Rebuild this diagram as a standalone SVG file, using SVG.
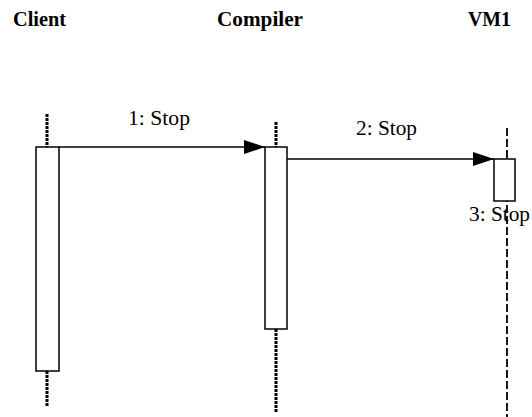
<svg xmlns="http://www.w3.org/2000/svg" width="532" height="417" viewBox="0 0 532 417">
<style>
.head{font-family:"Liberation Serif",serif;font-weight:bold;font-size:21px;fill:#000}
.lbl{font-family:"Liberation Serif",serif;font-size:22px;fill:#000}
.life{stroke:#000;stroke-width:3;stroke-dasharray:3,1;fill:none}
.life2{stroke:#000;stroke-width:1.8;stroke-dasharray:8,3;fill:none}
.act{fill:#fff;stroke:#000;stroke-width:1.5}
.msg{stroke:#000;stroke-width:1.5;fill:none;marker-end:url(#arr)}
</style>
<defs>
<marker id="arr" markerWidth="21" markerHeight="14" refX="21" refY="7" orient="auto" markerUnits="userSpaceOnUse">
<path d="M0,0 L21,7 L0,14 Z" fill="#000"/>
</marker>
</defs>
<g id="client">
<text class="head" x="13" y="26" textLength="53" lengthAdjust="spacingAndGlyphs">Client</text>
<line class="life" x1="47" y1="114" x2="47" y2="147"/>
<line class="life" x1="47" y1="371" x2="47" y2="406"/>
<rect class="act" x="36" y="147" width="23" height="224"/>
</g>
<g id="compiler">
<text class="head" x="217" y="26" textLength="86" lengthAdjust="spacingAndGlyphs">Compiler</text>
<line class="life" x1="276" y1="122" x2="276" y2="147"/>
<line class="life" x1="276" y1="329" x2="276" y2="413"/>
<rect class="act" x="265" y="147" width="22" height="182"/>
</g>
<g id="vm1">
<text class="head" x="468" y="26" textLength="43" lengthAdjust="spacingAndGlyphs">VM1</text>
<line class="life2" x1="507" y1="128" x2="507" y2="417"/>
<rect class="act" x="494" y="159" width="21" height="42"/>
</g>
<g id="connectors">
<line class="msg" x1="59" y1="147" x2="265" y2="147"/>
<line class="msg" x1="287" y1="159" x2="494" y2="159"/>
<text class="lbl" x="128" y="125" textLength="62" lengthAdjust="spacingAndGlyphs">1: Stop</text>
<text class="lbl" x="356" y="135" textLength="61" lengthAdjust="spacingAndGlyphs">2: Stop</text>
<text class="lbl" x="469" y="221" textLength="61" lengthAdjust="spacingAndGlyphs">3: Stop</text>
</g>
</svg>
